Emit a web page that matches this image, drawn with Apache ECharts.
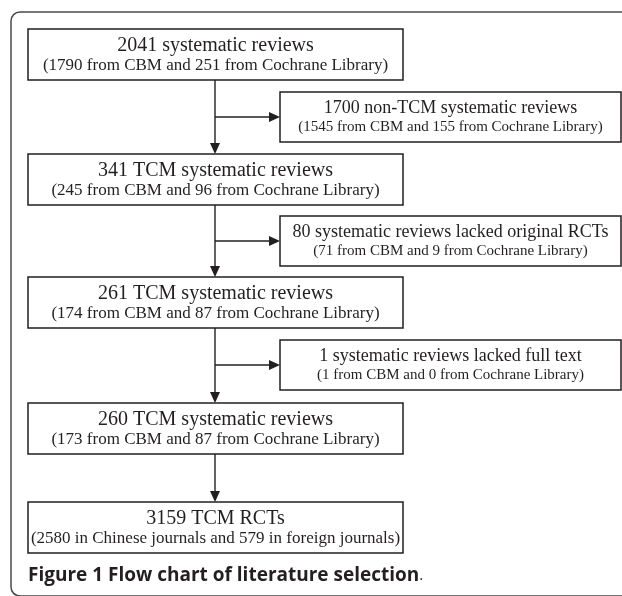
<!DOCTYPE html>
<html>
  <head>
    <meta charset="utf-8" />
    <script src="https://cdn.jsdelivr.net/npm/echarts@6/dist/echarts.min.js"></script>
    <style>
      html, body { margin: 0; padding: 0; background: #fff; }
    </style>
  </head>
  <body>
    <div id="main" style="width: 622px;height:596px;"></div>
    <script type="text/javascript">
      // counts
      var kept = [2041, 341, 261, 260];          // systematic reviews left after each step
      var keptCBM = [1790, 245, 174, 173];
      var keptCochrane = [251, 96, 87, 87];
      var keptKind = ['systematic reviews', 'TCM systematic reviews', 'TCM systematic reviews', 'TCM systematic reviews'];

      var dropped = [1700, 80, 1];               // removed at each step
      var droppedCBM = [1545, 71, 1];
      var droppedCochrane = [155, 9, 0];
      var droppedReason = ['non-TCM systematic reviews', 'systematic reviews lacked original RCTs', 'systematic reviews lacked full text'];

      var rcts = [3159, 2580, 579];              // total, Chinese journals, foreign journals

      // layout (chart units = pixels, see the hidden axes below)
      var mainX = [28, 403], mainTop = [29, 154, 277, 403, 502], mainH = 51;
      var sideX = [280, 621], sideTop = [92, 216, 340], sideH = 50;
      var trunkX = 215;

      var ink = '#231f20';
      var serif = '"Liberation Serif", "Times New Roman", serif';

      var mainTitle = [], mainNote = [];
      for (var i = 0; i < kept.length; i++) {
        mainTitle.push(kept[i] + ' ' + keptKind[i]);
        mainNote.push('(' + keptCBM[i] + ' from CBM and ' + keptCochrane[i] + ' from Cochrane Library)');
      }
      mainTitle.push(rcts[0] + ' TCM RCTs');
      mainNote.push('(' + rcts[1] + ' in Chinese journals and ' + rcts[2] + ' in foreign journals)');

      var sideTitle = [], sideNote = [];
      for (var j = 0; j < dropped.length; j++) {
        sideTitle.push(dropped[j] + ' ' + droppedReason[j]);
        sideNote.push('(' + droppedCBM[j] + ' from CBM and ' + droppedCochrane[j] + ' from Cochrane Library)');
      }

      function box(api, x0, x1, top, h, title, note, big, small) {
        var a = api.coord([x0, top]);
        var b = api.coord([x1, top + h]);
        var cx = (a[0] + b[0]) / 2, hh = b[1] - a[1];
        return {
          type: 'group',
          children: [
            { type: 'rect', shape: { x: a[0], y: a[1], width: b[0] - a[0], height: hh },
              style: { fill: '#fff', stroke: ink, lineWidth: 1.5 } },
            { type: 'text', style: { text: title, x: cx, y: a[1] + hh * 0.33, fill: ink,
              fontSize: big, fontFamily: serif, align: 'center', verticalAlign: 'middle' } },
            { type: 'text', style: { text: note, x: cx, y: a[1] + hh * 0.71, fill: ink,
              fontSize: small, fontFamily: serif, align: 'center', verticalAlign: 'middle' } }
          ]
        };
      }

      // arrow from p to q, head at q
      function arrow(p, q) {
        var dx = q[0] - p[0], dy = q[1] - p[1];
        var len = Math.sqrt(dx * dx + dy * dy), ux = dx / len, uy = dy / len;
        var hl = 11, hw = 5;
        var bx = q[0] - ux * hl, by = q[1] - uy * hl;
        return [
          { type: 'line', shape: { x1: p[0], y1: p[1], x2: bx, y2: by },
            style: { stroke: ink, lineWidth: 1.4 } },
          { type: 'polygon', shape: { points: [q, [bx - uy * hw, by + ux * hw], [bx + uy * hw, by - ux * hw]] },
            style: { fill: ink } }
        ];
      }

      var myChart = echarts.init(document.getElementById('main'));

      option = {
        animation: false,
        grid: { left: 0, right: 0, top: 0, bottom: 0 },
        xAxis: { type: 'value', min: 0, max: 622, show: false },
        yAxis: { type: 'value', min: 0, max: 596, inverse: true, show: false },
        graphic: [
          {
            type: 'rect',
            shape: { x: 11, y: 12, width: 700, height: 584, r: 9 },
            style: { fill: 'none', stroke: '#4a4a4a', lineWidth: 1.5 }
          },
          {
            type: 'text',
            left: 28,
            top: 566,
            style: {
              text: '{b|Figure 1 Flow chart of literature selection}{p|.}',
              rich: {
                b: { fontFamily: '"Open Sans"', fontWeight: 'bold', fontSize: 19, fill: ink },
                p: { fontFamily: '"Open Sans"', fontWeight: 'normal', fontSize: 15, fill: ink }
              }
            }
          }
        ],
        series: [
          {
            // connectors between the boxes
            type: 'custom',
            silent: true,
            data: [0, 1, 2, 3, 4, 5, 6],
            renderItem: function (params, api) {
              var k = params.dataIndex, parts;
              if (k < 4) {
                parts = arrow(api.coord([trunkX, mainTop[k] + mainH]), api.coord([trunkX, mainTop[k + 1]]));
              } else {
                var s = k - 4, y = sideTop[s] + sideH / 2;
                parts = arrow(api.coord([trunkX, y]), api.coord([sideX[0], y]));
              }
              return { type: 'group', children: parts };
            },
            z: 1
          },
          {
            // main column
            type: 'custom',
            silent: true,
            data: mainTitle.map(function (t, i) { return i; }),
            renderItem: function (params, api) {
              var i = params.dataIndex;
              return box(api, mainX[0], mainX[1], mainTop[i], mainH, mainTitle[i], mainNote[i], 20, 17);
            },
            z: 2
          },
          {
            // exclusions on the right
            type: 'custom',
            silent: true,
            data: sideTitle.map(function (t, i) { return i; }),
            renderItem: function (params, api) {
              var i = params.dataIndex;
              return box(api, sideX[0], sideX[1], sideTop[i], sideH, sideTitle[i], sideNote[i], 18, 15);
            },
            z: 2
          }
        ]
      };

      myChart.setOption(option);
    </script>
  </body>
</html>
